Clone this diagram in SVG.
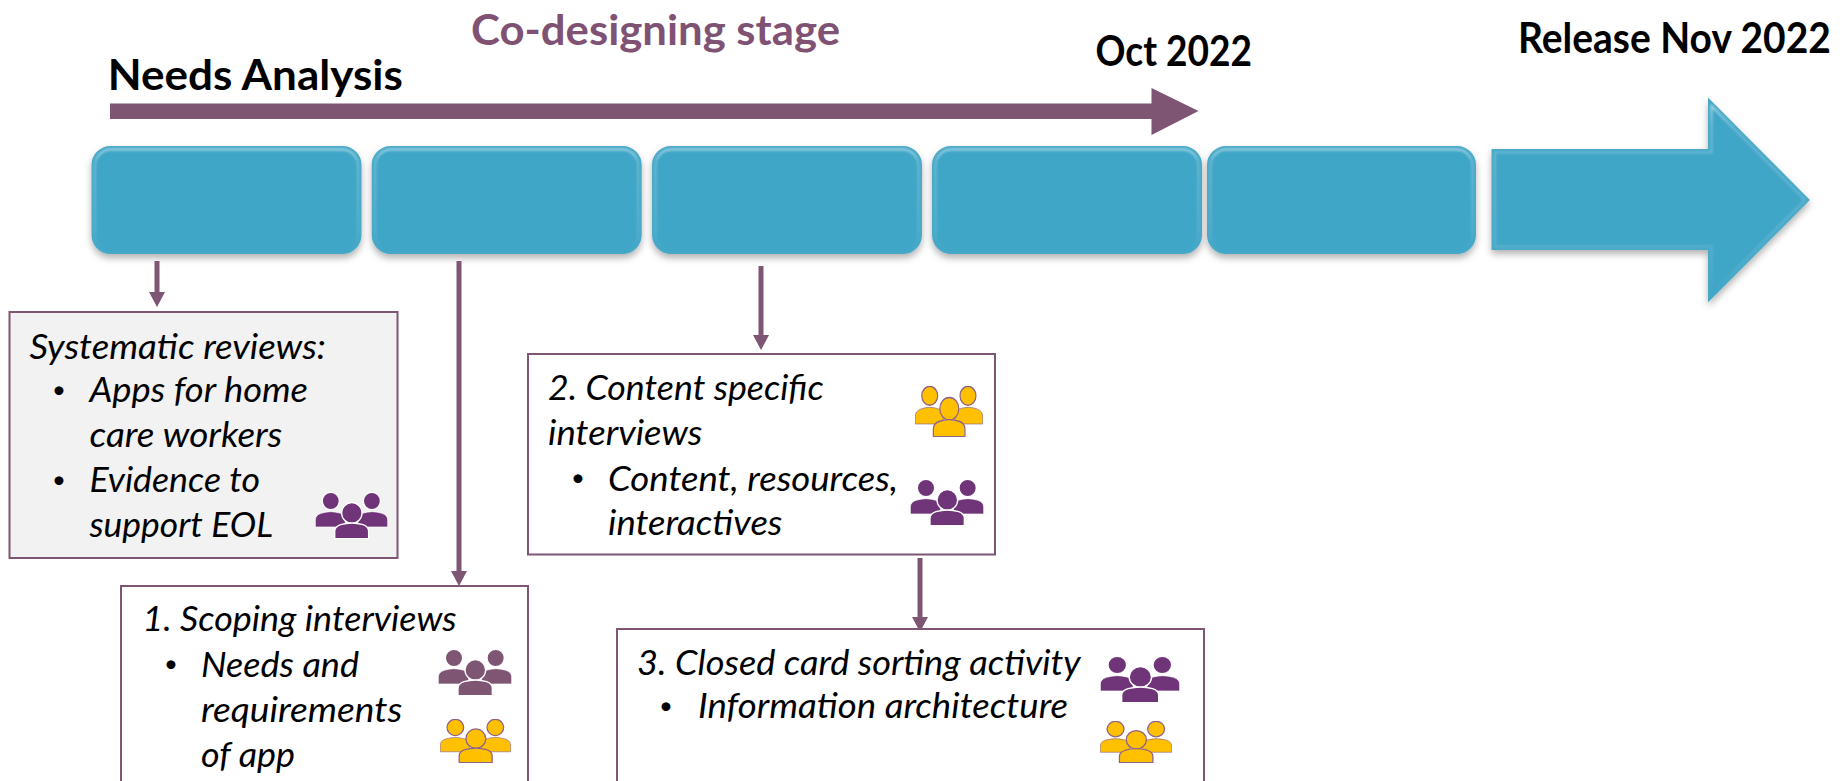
<svg xmlns="http://www.w3.org/2000/svg" xmlns:xlink="http://www.w3.org/1999/xlink" width="1845" height="781" viewBox="0 0 1845 781">
<style>
text{font-family:Lato,"Open Sans","Liberation Sans",sans-serif;fill:#000}
.h{font-weight:700;font-size:42px}
.b{font-style:italic;font-size:34.500px}
.d{font-size:24px;font-style:normal}
.box{stroke:#7f5574;stroke-width:2;fill:#fff}
.step{fill:#40a6c7;stroke:#4aa8c7;stroke-width:2;filter:url(#sh)}
.bev{fill:none;stroke:url(#bv);stroke-width:2;filter:url(#bl)}
.c{stroke:#7f5574;stroke-width:5;fill:none;marker-end:url(#ah)}
.p{fill:#6f3578;stroke:#fff}
.m{fill:#7f5574;stroke:#fff}
.y{fill:#ffc000;stroke:#8f6388}
</style>
<defs>
<filter id="sh" x="-10%" y="-10%" width="120%" height="125%"><feDropShadow dx="0" dy="4" stdDeviation="3.5" flood-color="#000" flood-opacity=".3"/></filter>
<filter id="bl" x="-5%" y="-5%" width="110%" height="110%"><feGaussianBlur stdDeviation="1"/></filter>
<linearGradient id="bv" x1="0" y1="0" x2="0" y2="1"><stop offset="0" stop-color="#a5d6e6"/><stop offset=".12" stop-color="#70bcd5"/><stop offset=".8" stop-color="#5ab2ce"/><stop offset="1" stop-color="#40a6c7"/></linearGradient>
<marker id="ah" markerUnits="userSpaceOnUse" markerWidth="18" markerHeight="18" refX="7" refY="8" orient="auto"><path d="M0 0L15 8L0 16Z" fill="#7f5574"/></marker>
<symbol id="people" viewBox="0 0 222 141" preserveAspectRatio="none">
<g stroke-width="4">
<circle cx="48" cy="27" r="26"/><circle cx="173" cy="27" r="26"/>
<path d="M1 105V84Q1 70 18 64Q48 54 78 64Q92 70 92 84V105Z" stroke-width="2"/>
<path d="M221 105V84Q221 70 204 64Q174 54 144 64Q130 70 130 84V105Z" stroke-width="2"/>
<circle cx="112" cy="63" r="31"/>
<path d="M60 140V118Q60 104 78 98Q112 88 146 98Q163 104 163 118V140Z"/>
</g>
</symbol>
</defs>
<rect width="1845" height="781" fill="#fff"/>

<g id="title-needs"><text class="h" x="107.800" y="90" textLength="295" lengthAdjust="spacingAndGlyphs">Needs Analysis</text></g>
<g id="title-codesign"><text class="h" x="471" y="45" style="fill:#7f5274" textLength="369" lengthAdjust="spacingAndGlyphs">Co-designing stage</text></g>
<g id="title-oct"><text class="h" x="1095.500" y="66" textLength="156.500" lengthAdjust="spacingAndGlyphs">Oct 2022</text></g>
<g id="title-release"><text class="h" transform="translate(1518 53) scale(.928 1)" x="0" y="0">Release Nov 2022</text></g>

<g id="stage-arrow"><path d="M110 103.500H1151.500V88L1198.500 111L1151.500 135V119H110Z" fill="#7f5574"/></g>

<g id="step-1"><rect class="step" x="92.500" y="147" width="268" height="106" rx="18"/><rect class="bev" x="95" y="149.500" width="263" height="101" rx="16"/></g>
<g id="step-2"><rect class="step" x="372.700" y="147" width="268" height="106" rx="18"/><rect class="bev" x="375.200" y="149.500" width="263" height="101" rx="16"/></g>
<g id="step-3"><rect class="step" x="653" y="147" width="268" height="106" rx="18"/><rect class="bev" x="655.500" y="149.500" width="263" height="101" rx="16"/></g>
<g id="step-4"><rect class="step" x="933" y="147" width="268" height="106" rx="18"/><rect class="bev" x="935.500" y="149.500" width="263" height="101" rx="16"/></g>
<g id="step-5"><rect class="step" x="1208" y="147" width="267" height="106" rx="18"/><rect class="bev" x="1210.500" y="149.500" width="262" height="101" rx="16"/></g>
<g id="release-arrow"><path class="step" d="M1492.500 150H1709V100L1808.500 200L1709 300V249H1492.500Z"/><path class="bev" d="M1495 152.500H1711.500V106L1805 200L1711.500 294V246.500H1495Z"/></g>

<g id="connectors">
<line class="c" x1="157" y1="261" x2="157" y2="299"/>
<line class="c" x1="459" y1="261" x2="459" y2="578"/>
<line class="c" x1="761" y1="266" x2="761" y2="342"/>
<line class="c" x1="920" y1="558" x2="920" y2="624"/>
</g>

<g id="box-reviews">
<rect class="box" x="9.500" y="312" width="388" height="246" style="fill:#f2f2f2"/>
<text class="b" x="29.400" y="359" textLength="296.600" lengthAdjust="spacingAndGlyphs">Systematic reviews:</text>
<text class="b d" x="52" y="398">•</text>
<text class="b" x="89.400" y="402" textLength="218.600" lengthAdjust="spacingAndGlyphs">Apps for home</text>
<text class="b" x="89.400" y="447" textLength="193" lengthAdjust="spacingAndGlyphs">care workers</text>
<text class="b d" x="52" y="488">•</text>
<text class="b" x="89.400" y="492" textLength="170.600" lengthAdjust="spacingAndGlyphs">Evidence to</text>
<text class="b" x="89.400" y="537" textLength="183.600" lengthAdjust="spacingAndGlyphs">support EOL</text>
<use class="p" href="#people" x="315" y="492" width="73" height="47"/>
</g>

<g id="box-scoping">
<rect class="box" x="121" y="586" width="407" height="215"/>
<text class="b" x="142.400" y="631" textLength="314.200" lengthAdjust="spacingAndGlyphs">1. Scoping interviews</text>
<text class="b d" x="164" y="672">•</text>
<text class="b" x="201" y="677" textLength="158" lengthAdjust="spacingAndGlyphs">Needs and</text>
<text class="b" x="201" y="722" textLength="201.400" lengthAdjust="spacingAndGlyphs">requirements</text>
<text class="b" x="201" y="767" textLength="94" lengthAdjust="spacingAndGlyphs">of app</text>
<use class="m" href="#people" x="438" y="649" width="74" height="47"/>
<use class="y" href="#people" x="440" y="719" width="71" height="44"/>
</g>

<g id="box-content">
<rect class="box" x="528" y="354" width="467" height="200.500"/>
<text class="b" x="548" y="400" textLength="275.700" lengthAdjust="spacingAndGlyphs">2. Content specific</text>
<text class="b" x="548" y="445" textLength="154.500" lengthAdjust="spacingAndGlyphs">interviews</text>
<text class="b d" x="571" y="486">•</text>
<text class="b" x="608" y="491" textLength="290" lengthAdjust="spacingAndGlyphs">Content, resources,</text>
<text class="b" x="608" y="535" textLength="174.500" lengthAdjust="spacingAndGlyphs">interactives</text>
<use class="y" href="#people" x="915" y="386" width="68" height="51"/>
<use class="p" href="#people" x="910" y="479" width="74" height="47"/>
</g>

<g id="box-cardsort">
<rect class="box" x="617" y="629" width="587" height="172"/>
<text class="b" x="637" y="675" textLength="443.700" lengthAdjust="spacingAndGlyphs">3. Closed card sorting activity</text>
<text class="b d" x="659" y="714">•</text>
<text class="b" x="698" y="718" textLength="370" lengthAdjust="spacingAndGlyphs">Information architecture</text>
<use class="p" href="#people" x="1100" y="656" width="80" height="47"/>
<use class="y" href="#people" x="1100" y="721" width="72" height="42"/>
</g>
</svg>
